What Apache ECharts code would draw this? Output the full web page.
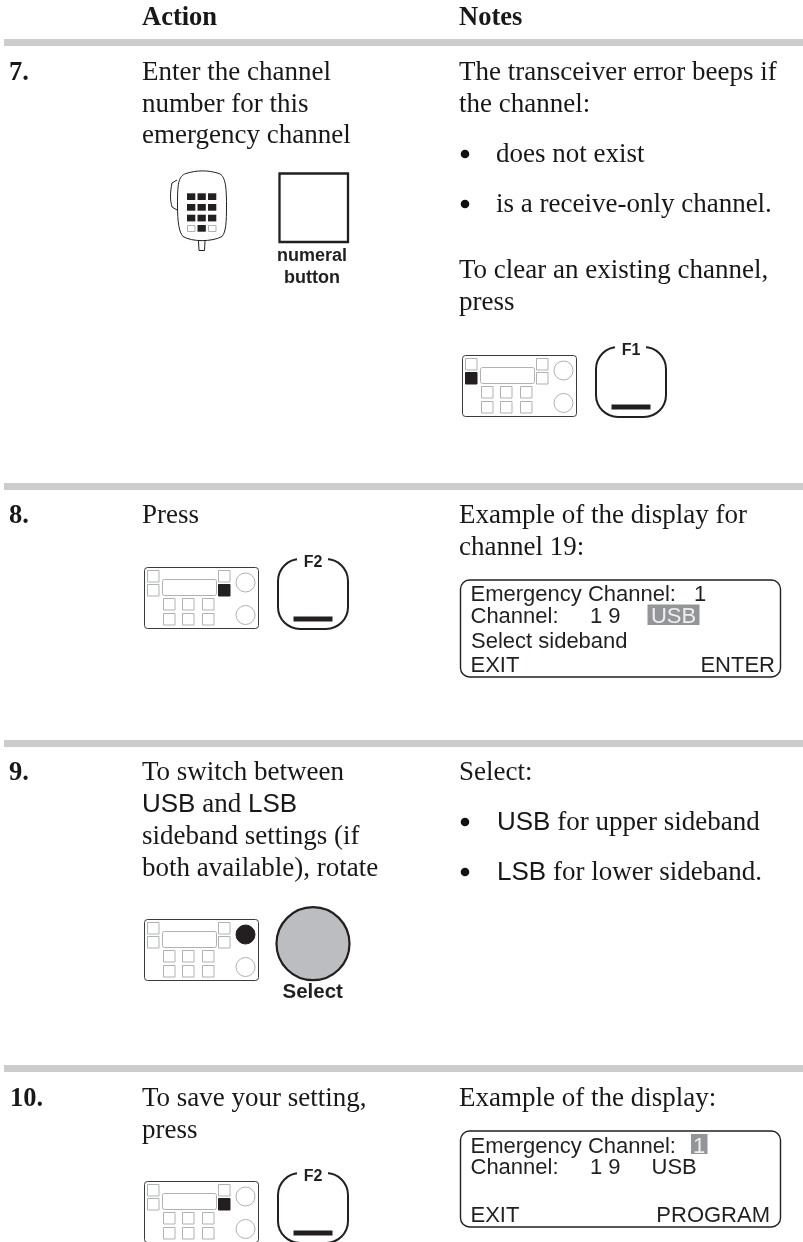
<!DOCTYPE html>
<html><head><meta charset="utf-8">
<style>html,body{margin:0;padding:0;background:#fff}#c{width:803px;height:1242px}</style>
<script src="https://cdn.jsdelivr.net/npm/echarts@6/dist/echarts.min.js"></script>
</head><body><div id="c"></div>
<script>
const headers = [["Action",142,25],["Notes",459,25]];
const stepNumbers = [["7.",9,80],["8.",9,523],["9.",9,780],["10.",10,1106]];
const bodyLines = [
 ["Enter the channel",142,80],["number for this",142,112],["emergency channel",142,143],
 ["The transceiver error beeps if",459,80],["the channel:",459,112],
 ["does not exist",496,162],["is a receive-only channel.",496,212],
 ["To clear an existing channel,",459,278],["press",459,310],
 ["Press",142,523],
 ["Example of the display for",459,523],["channel 19:",459,555],
 ["To switch between",142,780],["{s|USB} and {s|LSB}",142,812],["sideband settings (if",142,844],["both available), rotate",142,876],
 ["Select:",459,780],["{s|USB} for upper sideband",497,830],["{s|LSB} for lower sideband.",497,880],
 ["To save your setting,",142,1106],["press",142,1138],
 ["Example of the display:",459,1106]
];
const bullets = [[465,154],[465,204],[465,822],[465,872]];
const rules = [39,483,740,1065];
const lcdTexts = [
 ["Emergency Channel:",470.5,600.5],["1",694,600.5],["Channel:",470.5,622.5],["1 9",590,622.5],["Select sideband",471,647.5],["EXIT",470.5,671.5],
 ["Emergency Channel:",470.5,1152],["Channel:",470.5,1173],["1 9",590,1173],["USB",651.5,1173],["EXIT",470.5,1221.5]
];
const lcdRight = [["ENTER",775,671.5],["PROGRAM",770,1221.5]];
const lcdBoxes = [[460.5,580,320,97],[460.5,1131,320,96]];
const lcdHighlights = [[647.5,604.5,52,20.5,"USB",673.5,622.5],[691,1134,16.5,20,"1",699.2,1152]];
const radios = [[462,355,"L"],[144,567,"R"],[144,919,"K"],[144,1181,"R"]];
const keys = [[596,347,"F1"],[278,559,"F2"],[278,1173,"F2"]];
const diagramLabels = [["numeral",312,261,18],["button",312,283,18],["Select",312.7,997.5,20.5]];
const g = [];
const BASE=0.25;
function t(text,x,base,size,o){g.push({type:'text',style:Object.assign({text,x,y:base-BASE*size,verticalAlign:'middle',fill:'#1a1718',font:size+'px "Liberation Serif"'},o||{})});}
function r(x,y,w,h,fill,stroke,lw,rad){g.push({type:'rect',shape:{x,y,width:w,height:h,r:rad||0},style:{fill:fill||'none',stroke:stroke||'none',lineWidth:lw||1}});}
function c(cx,cy,rad,fill,stroke,lw){g.push({type:'circle',shape:{cx,cy,r:rad},style:{fill:fill||'#fff',stroke:stroke||'none',lineWidth:lw||1}});}
function bez(x1,y1,cpx1,cpy1,cpx2,cpy2,x2,y2){g.push({type:'bezierCurve',shape:{x1,y1,x2,y2,cpx1,cpy1,cpx2,cpy2},style:{fill:'none',stroke:DK,lineWidth:1}});}
function poly(points){g.push({type:'polyline',shape:{points},style:{fill:'none',stroke:DK,lineWidth:1}});}
const DK='#231f20',GR='#b0b1b3',SF=27,HF=26.5;
rules.forEach(y=>r(4,y,799,7,'#cbcccb'));
headers.forEach(h=>t(h[0],h[1],h[2],HF,{font:'bold '+HF+'px "Liberation Serif"'}));
stepNumbers.forEach(h=>t(h[0],h[1],h[2],HF,{font:'bold '+HF+'px "Liberation Serif"'}));
bodyLines.forEach(l=>t(l[0],l[1],l[2],SF,{rich:{s:{font:'26px "Liberation Sans"',fill:'#1a1718'}}}));
bullets.forEach(b=>c(b[0],b[1],4.3,'#111'));
radios.forEach(([x,y,m])=>{
  r(x+.5,y+.5,114,61,'#fff','#3a3a3a',1,3);
  [[3,3],[3,17],[74,3],[74,17],[19,31],[38,31],[58,31],[19,46],[38,46],[58,46]].forEach(([a,b],i)=>{
    const on=(m==='L'&&i===1)||(m==='R'&&i===3);
    r(x+a+.5,y+b+.5,11.5,11.5,on?DK:'#fff',on?DK:GR,1);
  });
  r(x+18.5,y+12.5,54,16,'#fff',GR,1,2);
  c(x+101.5,y+15.5,9.5,m==='K'?DK:'#fff',m==='K'?DK:GR,1);
  c(x+101.5,y+48,9.5,'#fff',GR,1);
});
keys.forEach(([x,y,s])=>{
  r(x,y,70,70,'#fff',DK,2,22);
  r(x+19,y-2,31,5,'#fff');
  t(s,x+35,y+8,16,{align:'center',font:'bold 16px "Liberation Sans"',fill:DK});
  r(x+15.5,y+57.5,39,5,DK);
});
r(279.5,173.5,68.5,68.5,'#fff',DK,2.3);
diagramLabels.forEach(d=>t(d[0],d[1],d[2],d[3],{align:'center',font:'bold '+d[3]+'px "Liberation Sans"',fill:DK}));
bez(177.5,205,177.5,185,178,176,186,173.5);
bez(186,173.5,197,170,208,170,219,173.5);
bez(219,173.5,225,176,226.5,185,226.5,205);
bez(226.5,205,226.5,222,226,232,222,236.5);
bez(222,236.5,212,242,192,242,183,236.5);
bez(183,236.5,179,232,177.5,222,177.5,205);
poly([[177,180],[172,183]]);
bez(172,183,170,193,170,200,172,207);
poly([[172,207],[177,210]]);
poly([[198.5,241],[199,250.5],[204.5,250.5],[205,241]]);
[193.3,204,214.7,225].forEach((yy,ri)=>[187,197.5,208].forEach((xx,ci)=>{
  const out=ri===3&&ci!==1;
  if(out) r(xx+.5,yy+.5,7.5,6,'#fff',GR,1); else r(xx,yy,8.3,6.7,DK);
}));
c(313,943.7,36.5,'#bcbdc0',DK,2.2);
lcdBoxes.forEach(b=>r(b[0],b[1],b[2],b[3],'#fff',DK,1.4,9));
lcdHighlights.forEach(h=>r(h[0],h[1],h[2],h[3],'#939598'));
const lcdFont='22px "Liberation Sans"';
lcdTexts.forEach(l=>t(l[0],l[1],l[2],22,{font:lcdFont,fill:DK}));
lcdRight.forEach(l=>t(l[0],l[1],l[2],22,{font:lcdFont,align:'right',fill:DK}));
lcdHighlights.forEach(h=>t(h[4],h[5],h[6],22,{font:lcdFont,align:'center',fill:'#eeeeee'}));
const chart=echarts.init(document.getElementById('c'),null,{renderer:'canvas',width:803,height:1242});
chart.setOption({animation:false,graphic:{elements:g}});
</script></body></html>
